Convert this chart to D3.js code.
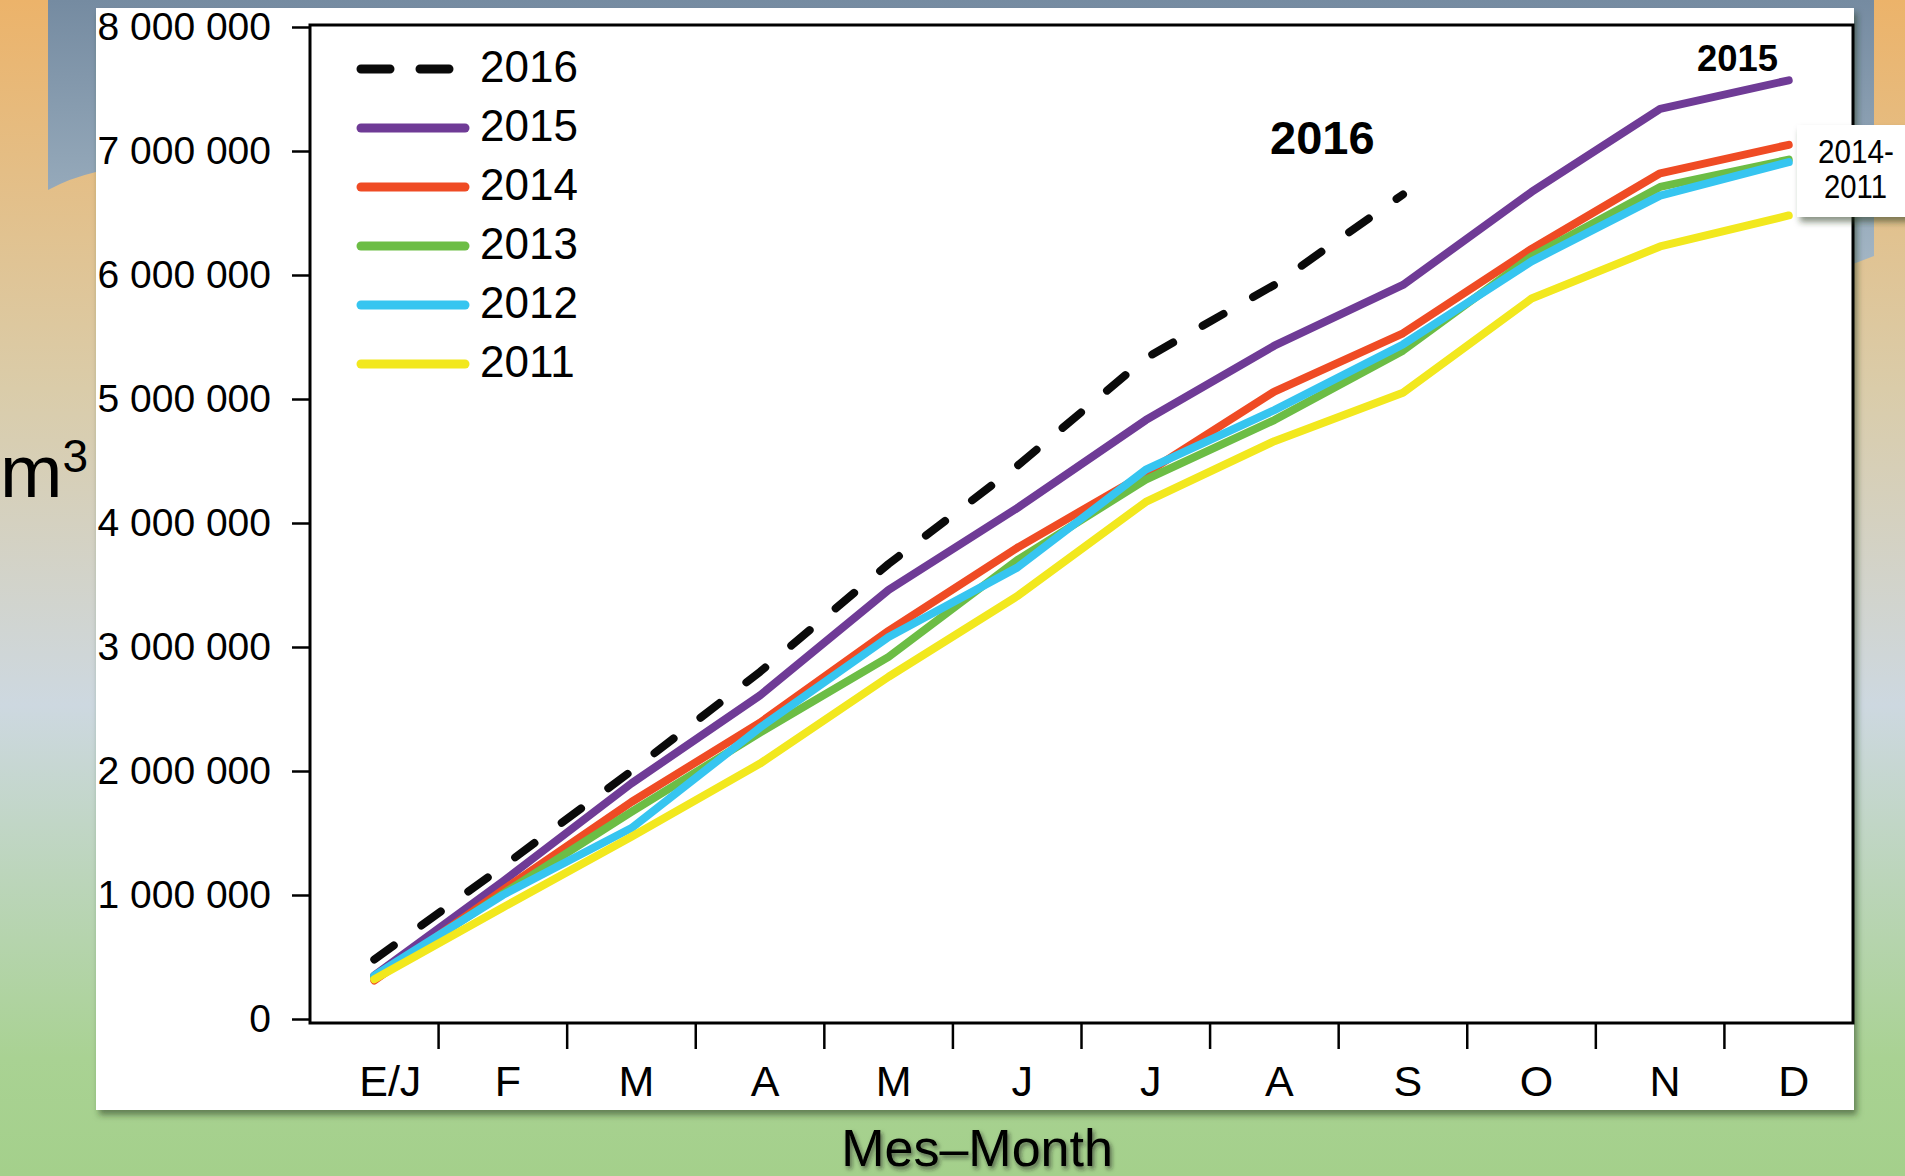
<!DOCTYPE html>
<html>
<head>
<meta charset="utf-8">
<script src="https://cdn.jsdelivr.net/npm/d3@7"></script>
<style>
  body { margin: 0; overflow: hidden; }
  text { font-family: "Liberation Sans", Arial, sans-serif; }
</style>
</head>
<body>
<div id="chart"></div>
<script>
// month labels (E/J = enero / january)
const months = ["E/J", "F", "M", "A", "M", "J", "J", "A", "S", "O", "N", "D"];
const years = ["2016", "2015", "2014", "2013", "2012", "2011"];

// cumulative volume, m3
const values2016 = [480000, 1230000, 2000000, 2800000, 3670000, 4460000, 5330000, 5920000, 6650000];
const values2015 = [350000, 1110000, 1900000, 2610000, 3460000, 4120000, 4830000, 5430000, 5920000, 6670000, 7340000, 7570000];
const values2014 = [310000, 1040000, 1750000, 2390000, 3130000, 3800000, 4400000, 5060000, 5530000, 6210000, 6820000, 7050000];
const values2013 = [330000, 1010000, 1670000, 2310000, 2920000, 3700000, 4350000, 4830000, 5390000, 6150000, 6710000, 6930000];
const values2012 = [350000, 1000000, 1540000, 2350000, 3080000, 3640000, 4430000, 4910000, 5440000, 6110000, 6640000, 6910000];
const values2011 = [320000, 900000, 1470000, 2060000, 2760000, 3410000, 4170000, 4660000, 5050000, 5810000, 6230000, 6480000];

const yTicks = [0, 1000000, 2000000, 3000000, 4000000, 5000000, 6000000, 7000000, 8000000];

const xTitle = "Mes\u2013Month";
const yTitle = "m";
const yTitleSup = "3";
const notes = ["2016", "2015", "2014-", "2011"];

// styles per year
const colors = {"2016": "#0a0a0a", "2015": "#6f3b96", "2014": "#ef4b24", "2013": "#6cbd45", "2012": "#36c5f0", "2011": "#f2e81e"};

const series = [
  {year: "2016", values: values2016},
  {year: "2015", values: values2015},
  {year: "2014", values: values2014},
  {year: "2013", values: values2013},
  {year: "2012", values: values2012},
  {year: "2011", values: values2011}
];

const width = 1905, height = 1176;
const box = {left: 310, top: 25, right: 1853, bottom: 1023};

const svg = d3.select("#chart")
  .append("svg")
    .attr("width", width)
    .attr("height", height);

const defs = svg.append("defs");

// page background gradient
const bg = defs.append("linearGradient").attr("id", "bg").attr("x1", 0).attr("y1", 0).attr("x2", 0).attr("y2", 1);
bg.append("stop").attr("offset", "0%").attr("stop-color", "#ecb36a");
bg.append("stop").attr("offset", "33%").attr("stop-color", "#dacca9");
bg.append("stop").attr("offset", "60%").attr("stop-color", "#cdd8e0");
bg.append("stop").attr("offset", "90%").attr("stop-color", "#a9d293");
bg.append("stop").attr("offset", "100%").attr("stop-color", "#a4d08b");

const slate = defs.append("linearGradient").attr("id", "slate").attr("x1", 0).attr("y1", 0).attr("x2", 0).attr("y2", 1);
slate.append("stop").attr("offset", "0%").attr("stop-color", "#758ba1");
slate.append("stop").attr("offset", "100%").attr("stop-color", "#a2b5c4");

const shadow = defs.append("filter").attr("id", "shadow").attr("x", "-10%").attr("y", "-10%").attr("width", "130%").attr("height", "130%");
shadow.append("feDropShadow").attr("dx", 3).attr("dy", 5).attr("stdDeviation", 3)
  .attr("flood-color", "#2b3a22").attr("flood-opacity", 0.55);

const textShadow = defs.append("filter").attr("id", "textShadow");
textShadow.append("feDropShadow").attr("dx", 2).attr("dy", 3).attr("stdDeviation", 2)
  .attr("flood-color", "#222").attr("flood-opacity", 0.6);

svg.append("rect").attr("width", width).attr("height", height).attr("fill", "url(#bg)");
svg.append("path")
  .attr("d", "M48,0 H1874 V256 L1853,264 L96,172 Q70,178 48,190 Z")
  .attr("fill", "url(#slate)");

// white card behind the chart
svg.append("rect")
  .attr("x", 96).attr("y", 8)
  .attr("width", 1758).attr("height", 1102)
  .attr("fill", "white")
  .attr("filter", "url(#shadow)");

// scales
const xScale = d3.scaleBand()
  .domain(d3.range(months.length))
  .range([box.left, box.right]);

const yScale = d3.scaleLinear()
  .domain([0, 8000000])
  .range([1019, 27]);

const xPos = i => xScale(i) + xScale.bandwidth() / 2;

// y axis
const yAxis = svg.append("g")
  .attr("transform", `translate(${box.left},0)`)
  .call(d3.axisLeft(yScale)
    .tickValues(yTicks)
    .tickSize(18)
    .tickPadding(21)
    .tickFormat(d => d3.format(",")(d).replace(/,/g, " ")));
yAxis.select(".domain").remove();
yAxis.selectAll("line").attr("stroke", "#000").attr("stroke-width", 2.5);
yAxis.selectAll("text").attr("font-size", 39).attr("fill", "#000")
  .style("font-family", "'Liberation Sans', Arial, sans-serif");

// x axis, labels sit in the middle of each month band
const xAxis = svg.append("g")
  .attr("transform", `translate(0,${box.bottom})`)
  .call(d3.axisBottom(xScale)
    .tickSize(0)
    .tickPadding(42)
    .tickFormat(i => months[i]));
xAxis.select(".domain").remove();
xAxis.selectAll("text").attr("font-size", 43).attr("fill", "#000")
  .attr("dx", (d, i) => i === 0 ? 16 : 5)
  .style("font-family", "'Liberation Sans', Arial, sans-serif");

// tick marks on the month boundaries
svg.append("g")
  .selectAll("line")
  .data(d3.range(1, months.length))
  .enter().append("line")
    .attr("x1", d => xScale(d))
    .attr("x2", d => xScale(d))
    .attr("y1", box.bottom)
    .attr("y2", box.bottom + 26)
    .attr("stroke", "#000")
    .attr("stroke-width", 2.5);

// plot frame
svg.append("rect")
  .attr("x", box.left).attr("y", box.top)
  .attr("width", box.right - box.left).attr("height", box.bottom - box.top)
  .attr("fill", "none")
  .attr("stroke", "#000")
  .attr("stroke-width", 3);

// the lines
const line = d3.line()
  .x((d, i) => xPos(i))
  .y(d => yScale(d));

svg.append("g")
  .selectAll("path")
  .data(series)
  .enter().append("path")
    .attr("d", d => line(d.values))
    .attr("fill", "none")
    .attr("stroke", d => colors[d.year])
    .attr("stroke-width", 8)
    .attr("stroke-linecap", "round")
    .attr("stroke-linejoin", "round")
    .attr("stroke-dasharray", d => d.year === "2016" ? "24 34" : null);

// legend
const legend = svg.append("g")
  .selectAll("g")
  .data(years)
  .enter().append("g")
    .attr("transform", (d, i) => `translate(0,${69 + i * 59})`);

legend.append("line")
  .attr("x1", 361).attr("x2", d => d === "2016" ? 449 : 465)
  .attr("stroke", d => colors[d])
  .attr("stroke-width", 9)
  .attr("stroke-linecap", "round")
  .attr("stroke-dasharray", d => d === "2016" ? "29 30" : null);

legend.append("text")
  .attr("x", 480).attr("y", 13)
  .attr("font-size", 44)
  .text(d => d);

// notes on the lines
svg.append("text")
  .attr("x", 1270).attr("y", 154)
  .attr("font-size", 47).attr("font-weight", "bold")
  .text(notes[0]);

svg.append("text")
  .attr("x", 1697).attr("y", 71)
  .attr("font-size", 37).attr("font-weight", "bold")
  .attr("textLength", 81).attr("lengthAdjust", "spacingAndGlyphs")
  .text(notes[1]);

svg.append("rect")
  .attr("x", 1797).attr("y", 125)
  .attr("width", 130).attr("height", 92)
  .attr("fill", "white")
  .attr("filter", "url(#shadow)");

// condensed two-line tag
svg.append("g")
  .selectAll("text")
  .data(notes.slice(2))
  .enter().append("text")
    .attr("x", (d, i) => i === 0 ? 1818 : 1824)
    .attr("y", (d, i) => 163 + i * 35)
    .attr("font-size", 34)
    .attr("textLength", (d, i) => i === 0 ? 76 : 63)
    .attr("lengthAdjust", "spacingAndGlyphs")
    .text(d => d);

// axis titles
svg.append("text")
  .attr("x", 977).attr("y", 1166)
  .attr("text-anchor", "middle")
  .attr("font-size", 52)
  .attr("filter", "url(#textShadow)")
  .text(xTitle);

const yLabel = svg.append("text")
  .attr("x", 0).attr("y", 497)
  .attr("font-size", 75);
yLabel.append("tspan").text(yTitle);
yLabel.append("tspan").attr("font-size", 46).attr("dy", -25).text(yTitleSup);
</script>
</body>
</html>
